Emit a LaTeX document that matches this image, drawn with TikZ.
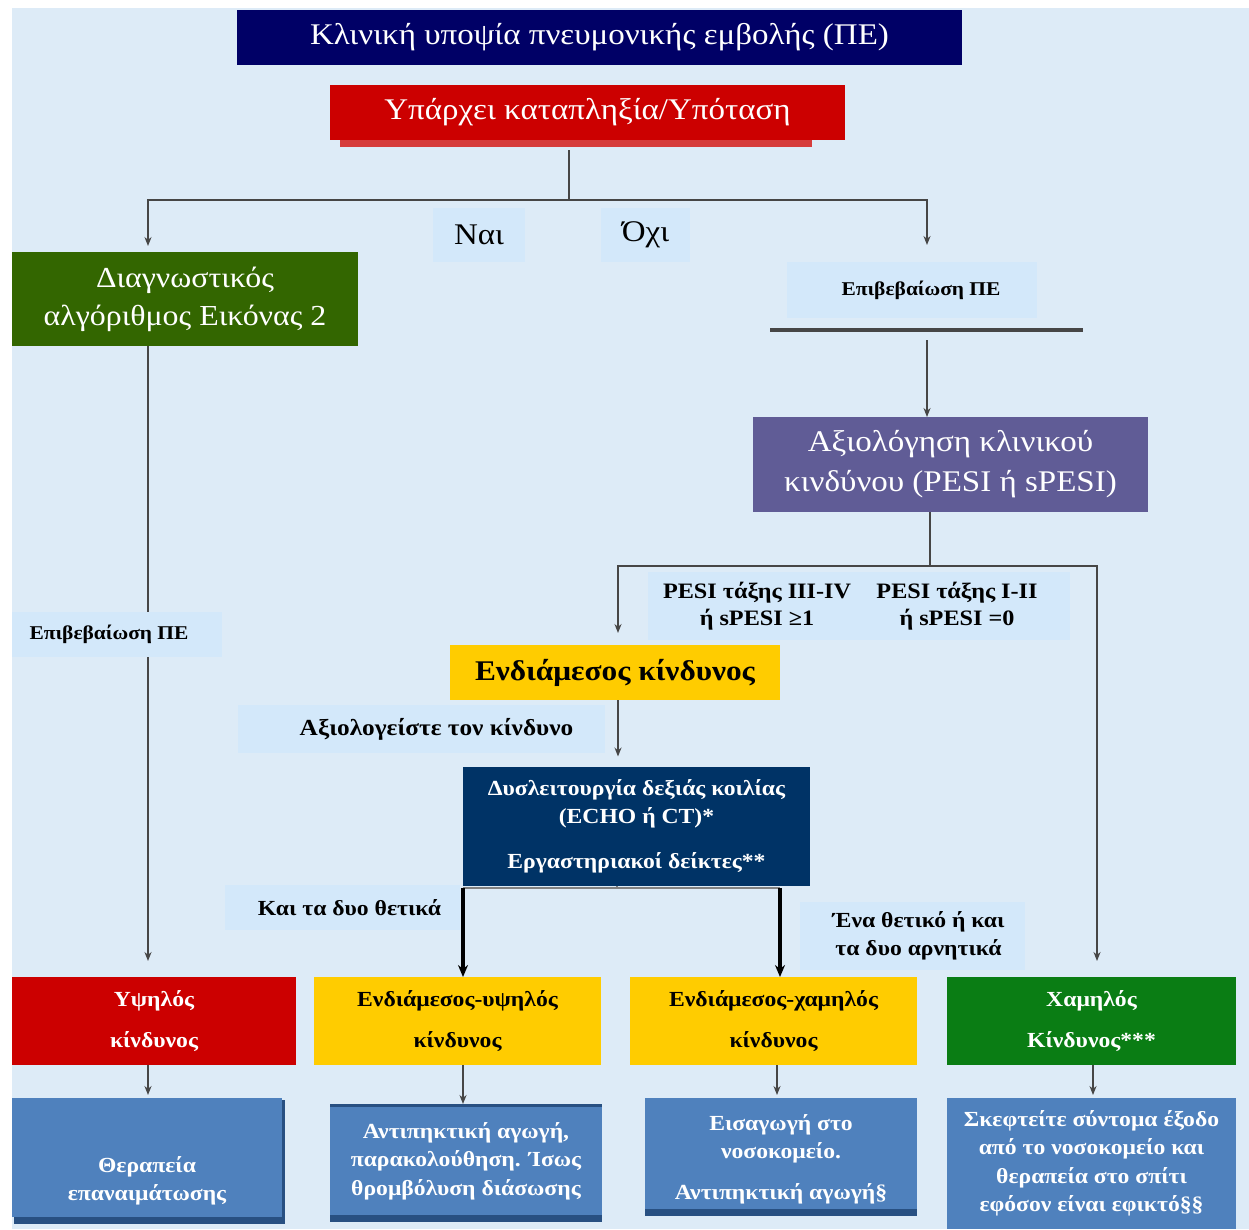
\documentclass[tikz,border=0pt]{standalone}
\usepackage{fontspec}
\setmainfont{Liberation Serif}[FakeStretch=1.1]
\usetikzlibrary{arrows.meta,calc}
\definecolor{pagebg}{RGB}{221,235,247}
\definecolor{tagbg}{RGB}{211,232,250}
\definecolor{navy}{RGB}{0,0,102}
\definecolor{alarmred}{RGB}{204,0,0}
\definecolor{shadowred}{RGB}{214,60,60}
\definecolor{olivegreen}{RGB}{51,102,0}
\definecolor{slatepurple}{RGB}{96,92,150}
\definecolor{amber}{RGB}{255,204,0}
\definecolor{deepblue}{RGB}{0,51,102}
\definecolor{leafgreen}{RGB}{10,125,20}
\definecolor{stepblue}{RGB}{79,129,189}
\definecolor{stepblueedge}{RGB}{40,80,130}
\definecolor{linegray}{RGB}{70,70,70}
\pgfdeclarelayer{back}
\pgfdeclarelayer{wires}
\pgfsetlayers{back,wires,main}
\begin{document}
\begin{tikzpicture}[x=1pt,y=-1pt,
  box/.style={inner sep=0pt, outer sep=0pt, align=center},
  bigtext/.style={font=\fontsize{30}{40}\selectfont},
  smalltext/.style={font=\bfseries\fontsize{21.5}{28.5}\selectfont},
  levels/.style={font=\bfseries\fontsize{21.5}{41}\selectfont},
  notetext/.style={font=\bfseries\fontsize{19.5}{22}\selectfont},
  tag/.style={box, fill=tagbg, smalltext},
  whitebox/.style={box, text=white},
  link/.style={draw=linegray, line width=2pt, -{Stealth[length=9pt,width=7pt]}},
  wire/.style={draw=linegray, line width=2pt},
  heavylink/.style={draw=black, line width=3.2pt, -{Stealth[length=12pt,width=10pt]}}
]
\useasboundingbox (0,0) rectangle (1249,1229);
\begin{pgfonlayer}{back}
  \fill[white] (0,0) rectangle (1249,1229);
  \fill[pagebg] (12,8) rectangle (1249,1229);
  % drop shadow under the shock question
  \fill[shadowred] (340,135) rectangle (812,147);
  % darker lower edges of the treatment boxes
  \fill[stepblueedge] (14,1100) rectangle (285,1224);
  \fill[stepblueedge] (330,1104) rectangle (602,1222);
  \fill[stepblueedge] (645,1100) rectangle (917,1216);
\end{pgfonlayer}

% top of the algorithm
\node[whitebox, fill=navy, minimum width=725, minimum height=55, bigtext] (title) at (599.5,37.5)
  {Κλινική υποψία πνευμονικής εμβολής (ΠΕ)};
\node[whitebox, fill=alarmred, minimum width=515, minimum height=55, bigtext] (shock) at (587.5,112.5)
  {Υπάρχει καταπληξία/Υπόταση};
\node[box, fill=tagbg, minimum width=92, minimum height=54, bigtext] (yes) at (479,235) {Ναι};
\node[box, fill=tagbg, minimum width=89, minimum height=54, bigtext] (no) at (645.5,235) {Όχι};
\node[whitebox, fill=olivegreen, minimum width=346, minimum height=94, font=\fontsize{29}{38}\selectfont] (diag) at (185,299)
  {Διαγνωστικός\\αλγόριθμος Εικόνας 2};
\node[tag, minimum width=250, minimum height=56, notetext] (confR) at (912,290) {\hspace*{18pt}Επιβεβαίωση ΠΕ};
\node[whitebox, fill=slatepurple, minimum width=395, minimum height=95, bigtext] (pesi) at (950.5,464.5)
  {Αξιολόγηση κλινικού\\κινδύνου (PESI ή sPESI)};

% risk classes
\node[tag, minimum width=422, minimum height=68] (classes) at (859,606) {};
\node[box, font=\bfseries\fontsize{22}{27}\selectfont] (classHi) at (757,606) {PESI τάξης III-IV\\ή sPESI ≥1};
\node[box, font=\bfseries\fontsize{22}{27}\selectfont] (classLo) at (957,606) {PESI τάξης I-II\\ή sPESI =0};
\node[box, fill=amber, minimum width=330, minimum height=55, font=\bfseries\fontsize{28.5}{30}\selectfont] (mid) at (615,672.5)
  {Ενδιάμεσος κίνδυνος};
\node[tag, minimum width=367, minimum height=48, font=\bfseries\fontsize{23}{28}\selectfont] (assess) at (421.5,729)
  {\hspace*{30pt}Αξιολογείστε τον κίνδυνο};
\node[whitebox, fill=deepblue, minimum width=347, minimum height=119, smalltext] (rv) at (636.5,826)
  {Δυσλειτουργία δεξιάς κοιλίας\\(ECHO ή CT)*\\[16pt]Εργαστηριακοί δείκτες**};
\node[tag, minimum width=235, minimum height=45] (both) at (342.5,907.5) {\hspace*{14pt}Και τα δυο θετικά};
\node[tag, minimum width=225, minimum height=68] (one) at (912.5,936) {\hspace*{12pt}Ένα θετικό ή και\\\hspace*{12pt}τα δυο αρνητικά};
\node[tag, minimum width=210, minimum height=45, notetext] (confL) at (117,634.5) {\hspace*{-16pt}Επιβεβαίωση ΠΕ};

% risk levels
\node[whitebox, fill=alarmred, minimum width=284, minimum height=88, levels] (high) at (154,1021)
  {Υψηλός\\κίνδυνος};
\node[box, fill=amber, minimum width=287, minimum height=88, levels] (midhigh) at (457.5,1021)
  {Ενδιάμεσος-υψηλός\\κίνδυνος};
\node[box, fill=amber, minimum width=287, minimum height=88, levels] (midlow) at (773.5,1021)
  {Ενδιάμεσος-χαμηλός\\κίνδυνος};
\node[whitebox, fill=leafgreen, minimum width=289, minimum height=88, levels] (low) at (1091.5,1021)
  {Χαμηλός\\Κίνδυνος***};

% treatment
\node[box, fill=stepblue, minimum width=270, minimum height=119] (txHigh) at (147,1157.5) {};
\node[whitebox, smalltext] (txHighText) at (147,1181) {Θεραπεία\\επαναιμάτωσης};
\node[whitebox, fill=stepblue, minimum width=272, minimum height=108, smalltext] (txMidHigh) at (466,1161)
  {Αντιπηκτική αγωγή,\\παρακολούθηση. Ίσως\\θρομβόλυση διάσωσης};
\node[whitebox, fill=stepblue, minimum width=272, minimum height=111, smalltext] (txMidLow) at (781,1153.5)
  {\rule{0pt}{27pt}Εισαγωγή στο\\νοσοκομείο.\\[12pt]Αντιπηκτική αγωγή§};
\node[whitebox, fill=stepblue, minimum width=289, minimum height=131, smalltext] (txLow) at (1091.5,1163.5)
  {Σκεφτείτε σύντομα έξοδο\\από το νοσοκομείο και\\θεραπεία στο σπίτι\\εφόσον είναι εφικτό§§};

% connectors
\coordinate (split) at (569,200);
\coordinate (splitTop) at (569,150);
\coordinate (leftX) at (148,0);
\coordinate (rightX) at (927,0);
\coordinate (barL) at (770,330);
\coordinate (barR) at (1083,330);
\coordinate (barOut) at (927,340);
\coordinate (fork) at (930,566);
\coordinate (forkL) at (618,0);
\coordinate (forkR) at (1097,0);
\coordinate (rvL) at (463,888);
\coordinate (rvR) at (780,888);
\coordinate (rvMid) at (617,888);

\begin{pgfonlayer}{wires}
  \draw[wire] (splitTop) -- (split);
  \draw[link, shorten >=6pt] (split) -| (diag.north -| leftX);
  \draw[link, shorten >=17pt] (split) -| (confR.north -| rightX);
  \draw[draw=linegray, line width=4pt] (barL) -- (barR);
  \draw[link] (barOut) -- (pesi.north -| barOut);
  \draw[wire] (pesi.south -| fork) -- (fork);
  \draw[link, shorten >=12pt] (fork) -| (mid.north -| forkL);
  \draw[link, shorten >=16pt] (fork) -| (low.north -| forkR);
  \draw[link, shorten >=10pt] (mid.south -| forkL) -- (rv.north -| forkL);
  \draw[link, shorten >=16pt] (diag.south -| leftX) -- (high.north -| leftX);
  \draw[draw=gray, line width=2.5pt] (rvL) -- (rvR);
  \draw[draw=gray, line width=1.5pt] (rv.south -| rvMid) -- (rvMid);
  \draw[heavylink] (rvL) -- (midhigh.north -| rvL);
  \draw[heavylink] (rvR) -- (midlow.north -| rvR);
  \draw[link, shorten >=3pt] (high.south -| leftX) -- (txHigh.north -| leftX);
  \draw[link, shorten >=3pt] (midhigh.south -| rvL) -- (txMidHigh.north -| rvL);
  \draw[link, shorten >=3pt] (midlow.south -| 777,0) -- (txMidLow.north -| 777,0);
  \draw[link, shorten >=3pt] (low.south -| 1093,0) -- (txLow.north -| 1093,0);
\end{pgfonlayer}
\end{tikzpicture}
\end{document}
